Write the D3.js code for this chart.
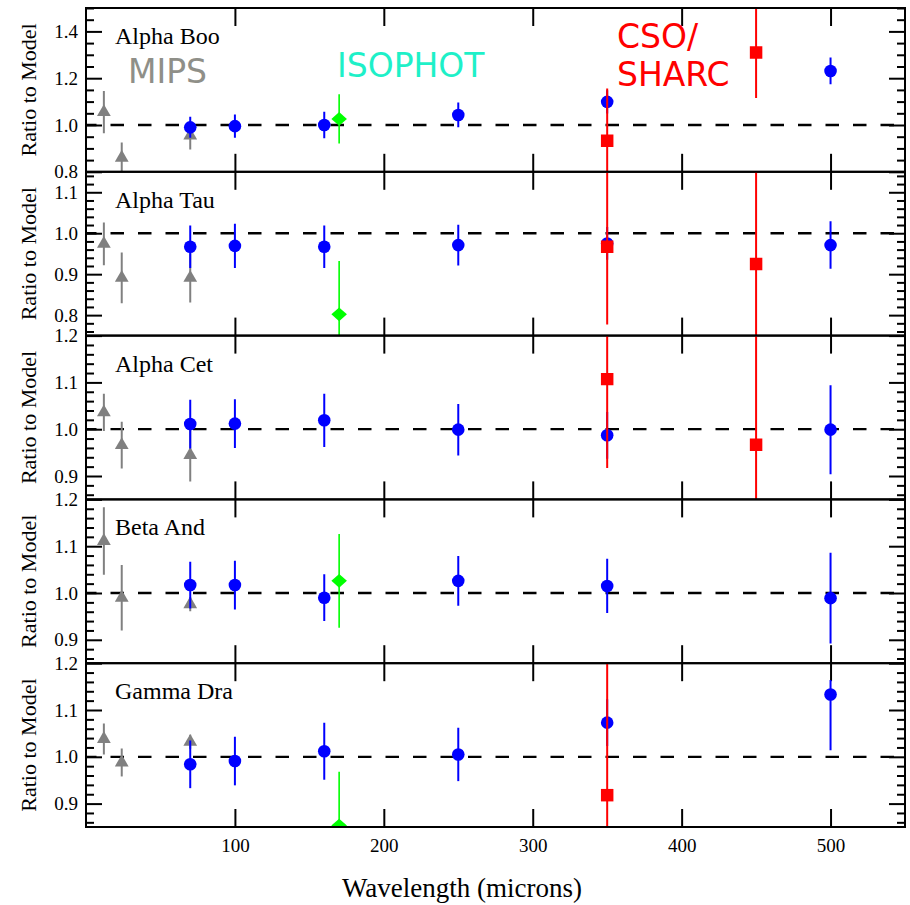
<!DOCTYPE html>
<html>
<head>
<meta charset="utf-8">
<script src="https://cdn.jsdelivr.net/npm/d3@7"></script>
<style>
  body { margin: 0; background: #fff; }
  svg { display: block; }
</style>
</head>
<body>
<svg id="chart" width="910" height="905"></svg>
<script>
// Observed / model flux ratios for five giant stars, per instrument.
const stars = ["Alpha Boo", "Alpha Tau", "Alpha Cet", "Beta And", "Gamma Dra"];

// MIPS (grey triangles)
const mipsWave = [12, 24, 70];
const mipsRatio = [
  [1.055, 0.86, 0.955],
  [0.974, 0.891, 0.891],
  [1.036, 0.966, 0.945],
  [1.111, 0.990, 0.976],
  [1.038, 0.988, 1.032]
];
const mipsErr = [
  [0.09, 0.065, 0.06],
  [0.052, 0.062, 0.06],
  [0.04, 0.05, 0.057],
  [0.072, 0.07, 0.015],
  [0.033, 0.03, 0.015]
];

// PACS / SPIRE (blue circles); an error given as [minus, plus] is asymmetric
const photWave = [70, 100, 160, 250, 350, 500];
const photRatio = [
  [0.990, 0.995, 1.000, 1.043, 1.099, 1.231],
  [0.967, 0.969, 0.967, 0.971, 0.975, 0.971],
  [1.011, 1.012, 1.019, 0.999, 0.987, 0.999],
  [1.017, 1.017, 0.990, 1.026, 1.015, 0.989],
  [0.984, 0.991, 1.012, 1.005, 1.073, 1.133]
];
const photErr = [
  [0.045, 0.05, 0.057, 0.053, 0.05, 0.057],
  [0.052, 0.054, 0.052, 0.05, 0.04, 0.058],
  [0.052, 0.052, 0.057, 0.055, 0.05, 0.095],
  [0.05, 0.052, 0.05, 0.053, 0.058, 0.097],
  [0.051, 0.052, 0.061, 0.057, 0.05, [0.119, 0.031]]
];

// ISOPHOT (green diamonds)
const isoWave = [170];
const isoRatio = [[1.026], [0.802], [null], [1.026], [0.853]];
const isoErr = [[0.105], [0.13], [null], [0.10], [0.115]];

// CSO / SHARC (red squares)
const csoWave = [350, 450];
const csoRatio = [[0.933, 1.31], [0.967, 0.925], [1.107, 0.967], [null, null], [0.918, null]];
const csoErr = [[0.223, 0.195], [0.19, 0.25], [0.19, 0.25], [null, null], [0.30, null]];

// Axes
const xDomain = [0, 550];
const xTickValues = [100, 200, 300, 400, 500];
const yDomains = [[0.8, 1.5], [0.75, 1.15], [0.85, 1.2], [0.85, 1.2], [0.85, 1.2]];
const yMajorTicks = [
  [0.8, 1.0, 1.2, 1.4],
  [0.8, 0.9, 1.0, 1.1],
  [0.9, 1.0, 1.1, 1.2],
  [0.9, 1.0, 1.1, 1.2],
  [0.9, 1.0, 1.1, 1.2]
];
const yMinorStep = [0.05, 0.02, 0.02, 0.02, 0.02];

// ---- layout ----
const W = 910, H = 905;
const plotLeft = 86, plotRight = 905, plotTop = 8, plotBottom = 827;
const panelH = (plotBottom - plotTop) / stars.length;

const serif = "'Liberation Serif', 'Times New Roman', serif";
const sans = "'DejaVu Sans', Verdana, sans-serif";

const svg = d3.select("#chart");
svg.append("rect").attr("width", W).attr("height", H).attr("fill", "#fff");

const x = d3.scaleLinear().domain(xDomain).range([plotLeft, plotRight]);

const colors = { mips: "#808080", phot: "#0000ff", iso: "#00ff00", cso: "#ff0000" };

function errPair(e) {
  return Array.isArray(e) ? e : [e, e];
}

stars.forEach((star, i) => {
  const y0 = plotTop + i * panelH, y1 = y0 + panelH;
  const y = d3.scaleLinear().domain(yDomains[i]).range([y1, y0]);
  const g = svg.append("g").attr("class", "panel");

  const clipId = "clip" + i;
  svg.append("clipPath").attr("id", clipId)
    .append("rect").attr("x", plotLeft).attr("y", y0).attr("width", plotRight - plotLeft).attr("height", panelH);

  // minor y ticks
  const [lo, hi] = yDomains[i];
  const step = yMinorStep[i];
  const minor = d3.range(Math.ceil(lo / step - 1e-6), Math.floor(hi / step + 1e-6) + 1)
    .map(k => +(k * step).toFixed(4))
    .filter(v => !yMajorTicks[i].some(m => Math.abs(m - v) < 1e-6));

  const axisStyle = sel => {
    sel.select(".domain").remove();
    sel.selectAll(".tick line").attr("stroke", "#000").attr("stroke-width", 2);
  };

  g.append("g").attr("transform", `translate(${plotLeft},0)`)
    .call(d3.axisLeft(y).tickValues(minor).tickSize(-8).tickFormat(""))
    .call(axisStyle);
  g.append("g").attr("transform", `translate(${plotRight},0)`)
    .call(d3.axisRight(y).tickValues(minor).tickSize(-8).tickFormat(""))
    .call(axisStyle);

  // major y ticks with labels on the left
  const yl = g.append("g").attr("transform", `translate(${plotLeft},0)`)
    .call(d3.axisLeft(y).tickValues(yMajorTicks[i]).tickSize(-16).tickPadding(8).tickFormat(d3.format(".1f")))
    .call(axisStyle);
  yl.selectAll(".tick text").attr("font-family", serif).attr("font-size", 19).attr("fill", "#000");
  g.append("g").attr("transform", `translate(${plotRight},0)`)
    .call(d3.axisRight(y).tickValues(yMajorTicks[i]).tickSize(-16).tickFormat(""))
    .call(axisStyle);

  // x ticks top and bottom
  g.append("g").attr("transform", `translate(0,${y0})`)
    .call(d3.axisTop(x).tickValues(xTickValues).tickSize(-18).tickFormat(""))
    .call(axisStyle);
  const xb = g.append("g").attr("transform", `translate(0,${y1})`)
    .call(d3.axisBottom(x).tickValues(xTickValues).tickSize(-18).tickPadding(12)
      .tickFormat(i === stars.length - 1 ? d3.format("d") : ""))
    .call(axisStyle);
  xb.selectAll(".tick text").attr("font-family", serif).attr("font-size", 19).attr("fill", "#000");

  // reference line at ratio 1
  g.append("line")
    .attr("x1", plotLeft).attr("x2", plotRight)
    .attr("y1", y(1)).attr("y2", y(1))
    .attr("stroke", "#000").attr("stroke-width", 2.3)
    .attr("stroke-dasharray", "13.5 14").attr("stroke-dashoffset", 3);

  // data
  const marks = g.append("g").attr("clip-path", `url(#${clipId})`);

  function series(waves, vals, errs, color, width, shape) {
    const pts = waves.map((w, j) => ({ w, v: vals[j], e: errs[j] })).filter(d => d.v != null);
    marks.append("g").selectAll("line").data(pts).join("line")
      .attr("x1", d => x(d.w)).attr("x2", d => x(d.w))
      .attr("y1", d => y(d.v - errPair(d.e)[0]))
      .attr("y2", d => y(d.v + errPair(d.e)[1]))
      .attr("stroke", color).attr("stroke-width", width);
    const mg = marks.append("g");
    pts.forEach(d => shape(mg, x(d.w), y(d.v), color));
  }

  const circle = (sel, cx, cy, c) => sel.append("circle").attr("cx", cx).attr("cy", cy).attr("r", 6.3).attr("fill", c);
  const tri = (sel, cx, cy, c) => sel.append("path").attr("d", d3.symbol(d3.symbolTriangle, 82)())
    .attr("transform", `translate(${cx},${cy})`).attr("fill", c);
  const square = (sel, cx, cy, c) => sel.append("path").attr("d", d3.symbol(d3.symbolSquare, 156)())
    .attr("transform", `translate(${cx},${cy})`).attr("fill", c);
  const diamond = (sel, cx, cy, c) => sel.append("path").attr("d", d3.symbol(d3.symbolSquare, 100)())
    .attr("transform", `translate(${cx},${cy}) scale(1.1,0.97) rotate(45)`).attr("fill", c);

  series(mipsWave, mipsRatio[i], mipsErr[i], colors.mips, 2, tri);
  series(photWave, photRatio[i], photErr[i], colors.phot, 2, circle);
  series(isoWave, isoRatio[i], isoErr[i], colors.iso, 1.6, diamond);
  series(csoWave, csoRatio[i], csoErr[i], colors.cso, 2, square);

  // frame
  g.append("rect").attr("x", plotLeft).attr("y", y0).attr("width", plotRight - plotLeft).attr("height", panelH)
    .attr("fill", "none").attr("stroke", "#000").attr("stroke-width", 2);

  // star name
  g.append("text").attr("x", 115).attr("y", y0 + 36)
    .attr("font-family", serif).attr("font-size", 24).attr("fill", "#000").text(star);

  // y title
  g.append("text")
    .attr("transform", `translate(36,${(y0 + y1) / 2}) rotate(-90)`)
    .attr("text-anchor", "middle")
    .attr("font-family", serif).attr("font-size", 22).attr("fill", "#000")
    .text("Ratio to Model");
});

// instrument labels
const labelFont = 33;
svg.append("text").attr("x", 128).attr("y", 82.5).attr("font-family", sans).attr("font-size", labelFont)
  .attr("fill", "#8f8f88").text("MIPS");
svg.append("text").attr("x", 337).attr("y", 77).attr("font-family", sans).attr("font-size", labelFont)
  .attr("fill", "#1ef0c8").text("ISOPHOT");
const csoLabel = svg.append("text").attr("font-family", sans).attr("font-size", labelFont).attr("fill", "#ff0000");
csoLabel.append("tspan").attr("x", 617).attr("y", 48).text("CSO/");
csoLabel.append("tspan").attr("x", 617).attr("y", 86).text("SHARC");

// x title
svg.append("text").attr("x", 462).attr("y", 897).attr("text-anchor", "middle")
  .attr("font-family", serif).attr("font-size", 27).attr("fill", "#000")
  .text("Wavelength (microns)");
</script>
</body>
</html>
